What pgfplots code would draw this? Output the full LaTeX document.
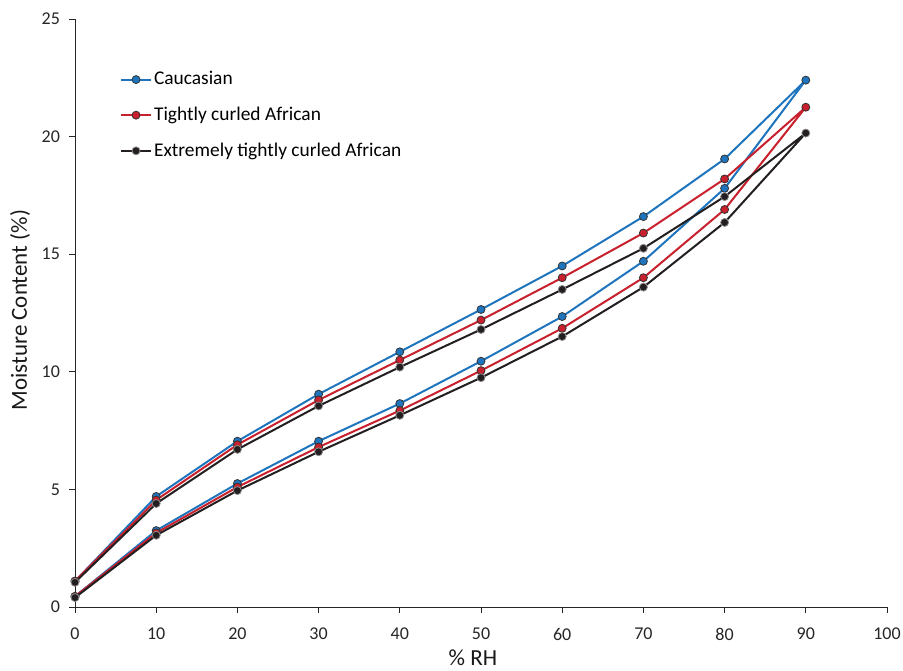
\documentclass[border=0pt]{standalone}
\usepackage{pgfplots}
\pgfplotsset{compat=1.18}
\usepackage{fontspec}
\setmainfont{Carlito}
\definecolor{cblue}{RGB}{30,117,190}
\definecolor{cred}{RGB}{200,32,44}
\definecolor{cblack}{RGB}{35,31,32}
\begin{document}
\begin{tikzpicture}
\useasboundingbox (-37.5pt,-31.5pt) rectangle (414pt,303.5pt);
\begin{axis}[
  at={(0,0)}, anchor=south west,
  scale only axis, width=406pt, height=294pt,
  xmin=0, xmax=100, ymin=0, ymax=25,
  xtick={0,10,...,100}, ytick={0,5,...,25},
  axis x line*=bottom, axis y line*=left,
  axis line style={black!85, line width=0.5pt},
  tick style={black!85, line width=0.5pt},
  tick align=outside, major tick length=3pt,
  every tick label/.append style={font=\fontsize{9}{10}\selectfont, text=black!85},
  /pgf/number format/assume math mode=true,
  xlabel={\% RH}, ylabel={Moisture Content (\%)},
  label style={font=\fontsize{11.5}{13}\selectfont, text=black!90},
  xlabel style={at={(axis description cs:0.49,0)}, anchor=center, yshift=-25.5pt},
  ylabel style={at={(axis description cs:-0.0677,0.505)}, anchor=center},
  xticklabel style={yshift=-4pt},
  yticklabel style={xshift=-1pt},
  clip=false,
  legend style={at={(0.055,0.915)}, anchor=north west, draw=none, fill=none,
    font=\fontsize{9.7}{11}\selectfont, row sep=7.6pt, inner sep=0pt,
    cells={anchor=west}, nodes={inner sep=1pt}},
  legend image code/.code={
    \draw[mark repeat=2, mark phase=2] plot coordinates {(0pt,0pt) (7.5pt,0pt) (15pt,0pt)};},
  every axis plot/.append style={line width=1pt, mark=*, mark size=2pt},
]
\addplot[cblue, mark options={fill=cblue, draw=black!80, line width=0.4pt}] coordinates {
(0,0.45) (10,3.25) (20,5.25) (30,7.05) (40,8.65) (50,10.45) (60,12.35) (70,14.7) (80,17.8) (90,22.4)
(80,19.05) (70,16.6) (60,14.5) (50,12.65) (40,10.85) (30,9.05) (20,7.05) (10,4.7) (0,1.1)};
\addlegendentry{Caucasian}
\addplot[cred, mark options={fill=cred, draw=black!80, line width=0.4pt}] coordinates {
(0,0.45) (10,3.15) (20,5.1) (30,6.8) (40,8.35) (50,10.05) (60,11.85) (70,14.0) (80,16.9) (90,21.25)
(80,18.2) (70,15.9) (60,14.0) (50,12.2) (40,10.5) (30,8.8) (20,6.9) (10,4.55) (0,1.1)};
\addlegendentry{Tightly curled African}
\addplot[cblack, mark options={fill=cblack, draw=black!45, line width=0.4pt}] coordinates {
(0,0.4) (10,3.05) (20,4.95) (30,6.6) (40,8.15) (50,9.75) (60,11.5) (70,13.6) (80,16.35) (90,20.15)
(80,17.45) (70,15.25) (60,13.5) (50,11.8) (40,10.2) (30,8.55) (20,6.7) (10,4.4) (0,1.05)};
\addlegendentry{Extremely tightly curled African}
\end{axis}
\end{tikzpicture}
\end{document}
